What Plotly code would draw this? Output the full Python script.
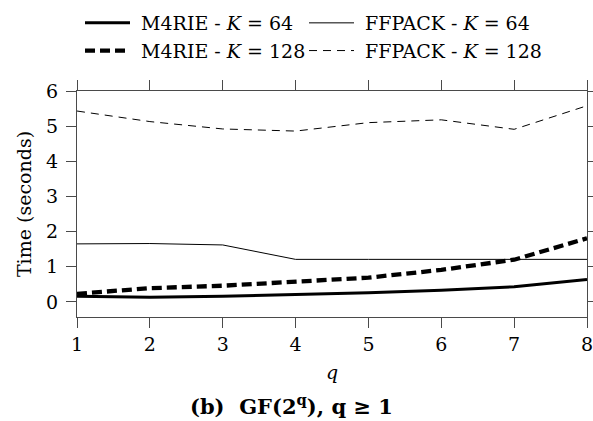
import plotly.graph_objects as go

q_values = [1, 2, 3, 4, 5, 6, 7, 8]
m4rie_k64 = [0.16, 0.13, 0.16, 0.20, 0.26, 0.33, 0.43, 0.64]
ffpack_k64 = [1.65, 1.66, 1.62, 1.21, 1.21, 1.21, 1.21, 1.21]
m4rie_k128 = [0.23, 0.39, 0.46, 0.57, 0.69, 0.91, 1.20, 1.81]
ffpack_k128 = [5.43, 5.13, 4.92, 4.86, 5.10, 5.18, 4.91, 5.58]

x_ticks = [1, 2, 3, 4, 5, 6, 7, 8]
y_ticks = [0, 1, 2, 3, 4, 5, 6]

FONT = "DejaVu Serif"
FS = 19
AXC = "#4a4a4a"
NB = "\u00a0"

fig = go.Figure()
fig.add_trace(go.Scatter(x=q_values, y=m4rie_k64, mode="lines",
                         name=NB + "M4RIE - <i>K</i> = 64", legend="legend",
                         line=dict(color="black", width=3)))
fig.add_trace(go.Scatter(x=q_values, y=ffpack_k64, mode="lines",
                         name=NB + "FFPACK - <i>K</i> = 64", legend="legend2",
                         line=dict(color="black", width=1)))
fig.add_trace(go.Scatter(x=q_values, y=m4rie_k128, mode="lines",
                         name=NB + "M4RIE - <i>K</i> = 128", legend="legend",
                         line=dict(color="black", width=4.3, dash="10px,5px")))
fig.add_trace(go.Scatter(x=q_values, y=ffpack_k128, mode="lines",
                         name=NB + "FFPACK - <i>K</i> = 128", legend="legend2",
                         line=dict(color="black", width=1, dash="8px,6px")))

axis_common = dict(
    showline=True, linecolor=AXC, linewidth=1, mirror="allticks",
    ticks="outside", ticklen=10, tickcolor=AXC, tickwidth=1,
    showgrid=False, zeroline=False, ticklabeloverflow="allow",
    tickfont=dict(family=FONT, size=FS, color="black"),
)

fig.update_xaxes(range=[1, 8], tickvals=x_ticks,
                 ticktext=[str(v) for v in x_ticks],
                 title=dict(text="<i>q</i>", font=dict(family=FONT, size=FS, color="black"),
                            standoff=11),
                 **axis_common)
fig.update_yaxes(range=[-0.43, 6.0], tickvals=y_ticks,
                 ticktext=[str(v) for v in y_ticks],
                 ticklabelstandoff=4,
                 title=dict(text="Time (seconds)", font=dict(family=FONT, size=FS, color="black"),
                            standoff=9),
                 **axis_common)

fig.add_annotation(text="<b>(b)" + NB + NB + "GF(2<sup>q</sup>)," + NB + "q" + NB + "≥" + NB + "1</b>",
                   xref="paper", yref="paper", x=(291 - 77) / 510, y=-0.39,
                   xanchor="center", yanchor="middle", showarrow=False,
                   font=dict(family=FONT, size=21, color="black"))

legend_common = dict(orientation="v", xanchor="left", yref="container",
                     y=1 - 4 / 421, yanchor="top",
                     itemwidth=45, tracegroupgap=0,
                     font=dict(family=FONT, size=FS, color="black"),
                     bgcolor="rgba(0,0,0,0)", borderwidth=0)

fig.update_layout(
    width=593, height=421,
    margin=dict(l=77, r=6, t=91, b=104, autoexpand=False),
    paper_bgcolor="white", plot_bgcolor="white",
    showlegend=True,
    legend=dict(x=3 / 510, **legend_common),
    legend2=dict(x=(304 - 77) / 510, **legend_common),
)

fig.write_html("out.html")
